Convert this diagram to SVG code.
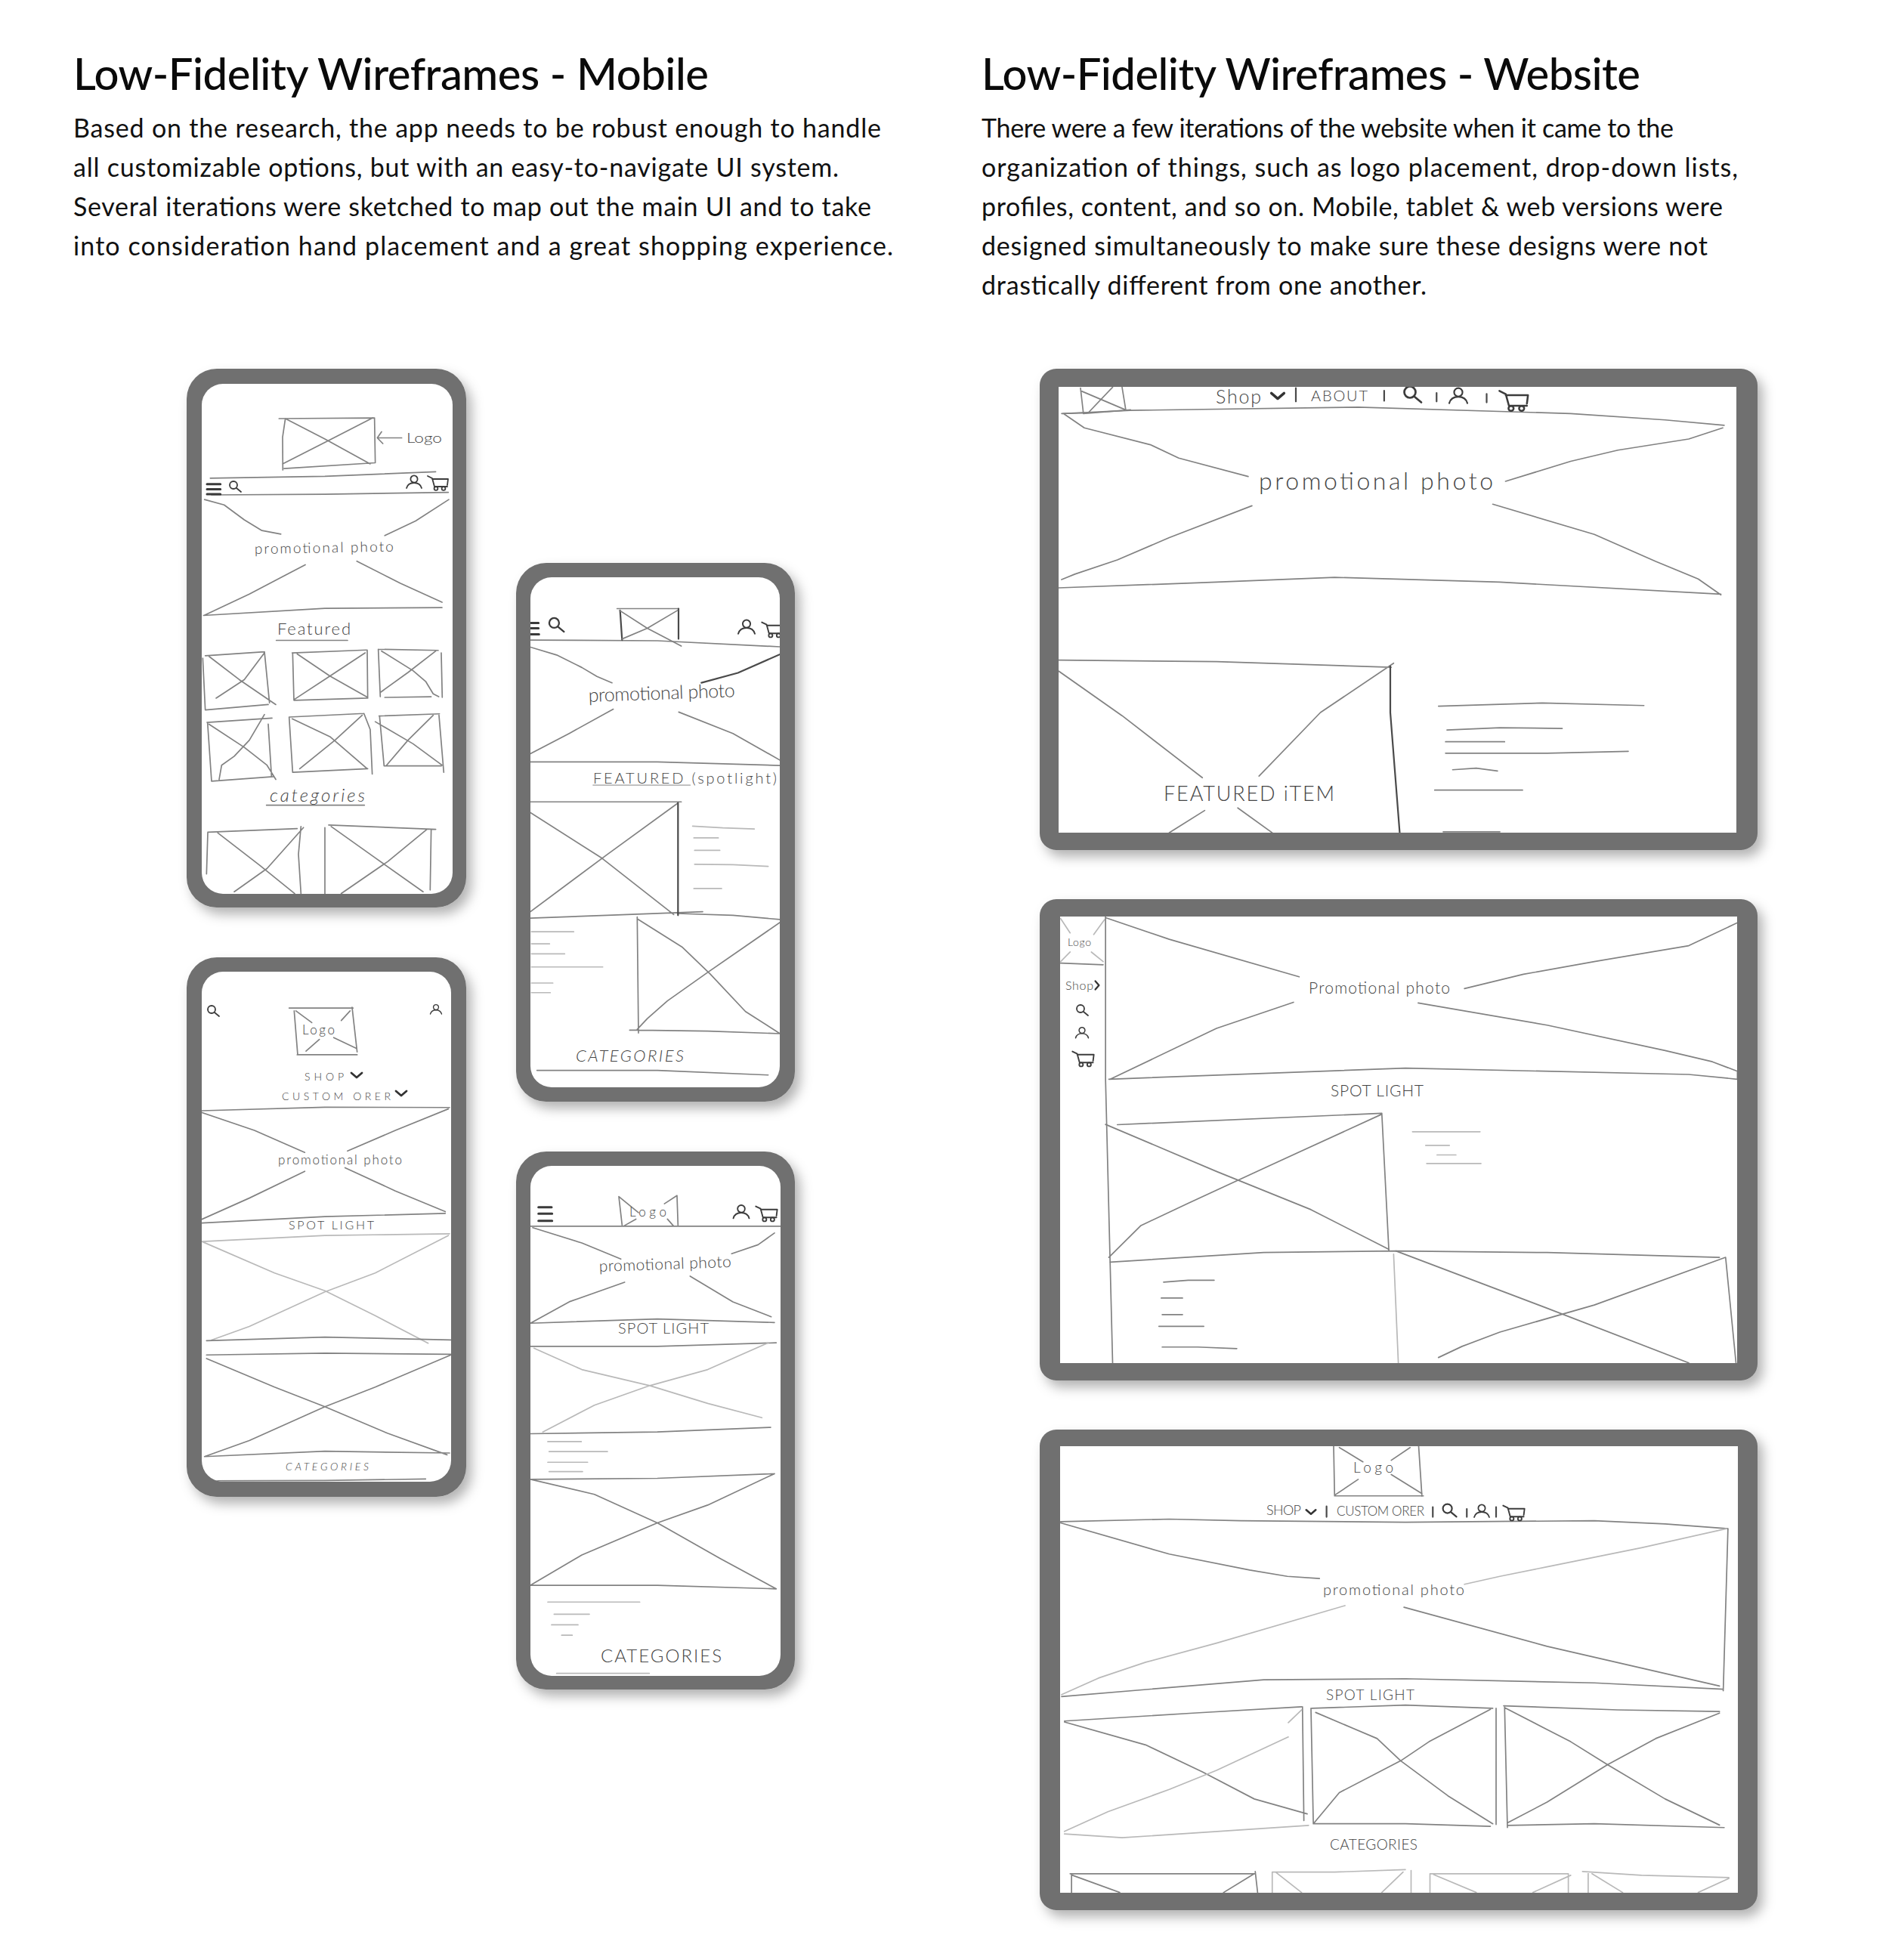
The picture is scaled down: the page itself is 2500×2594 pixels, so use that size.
<svg xmlns="http://www.w3.org/2000/svg" width="2500" height="2594" viewBox="0 0 2500 2594">
<style>
.h{font-family:"Lato","Liberation Sans",sans-serif;font-size:58px;font-weight:500;fill:#0a0a0a}
.b{font-family:"Lato","Liberation Sans",sans-serif;font-size:34px;fill:#111}
.f{fill:#6f6f6f}
.w{fill:#fff}
.s,.l,.d,.t{fill:none;vector-effect:non-scaling-stroke;stroke-linecap:round;stroke-linejoin:round}
.s{stroke:#828282;stroke-width:1.7}
.l{stroke:#b9b9b9;stroke-width:1.7}
.d{stroke:#4a4a4a;stroke-width:2.2}
.t{stroke:#3a3a3a;stroke-width:3}
.i{fill:none;stroke:#3c3c3c;stroke-width:1.8;stroke-linecap:round;stroke-linejoin:round}
.c{fill:none;stroke:#333;stroke-width:2.8;stroke-linecap:round;stroke-linejoin:round}
.x{font-family:"Lato","Liberation Sans",sans-serif;font-weight:300;fill:#444}
</style>
<defs>
<filter id="sh" x="-10%" y="-10%" width="125%" height="125%"><feDropShadow dx="7" dy="9" stdDeviation="8" flood-color="#000" flood-opacity=".3"/></filter>
<g id="search"><circle cx="-2" cy="-2" r="5" class="i"/><path d="M2 2L8 7" class="i"/></g>
<g id="person"><circle cx="0" cy="-4" r="4.6" class="i"/><path d="M-10 8Q-8 1 0 1Q8 1 10 8" class="i"/></g>
<g id="cart"><path d="M-14 -9L-8 -6L-5 5H12M-8 -5H13L12 3" class="i"/><circle cx="-3" cy="7.5" r="2.4" class="i"/><circle cx="7" cy="7.5" r="2.4" class="i"/></g>
<path id="chev" d="M-7 -3L0 3L7 -3" class="c"/>
<clipPath id="c1"><rect x="267" y="508" width="332" height="675" rx="28"/></clipPath>
<clipPath id="c2"><rect x="702" y="764" width="330" height="675" rx="28"/></clipPath>
<clipPath id="c3"><rect x="267" y="1286" width="330" height="675" rx="28"/></clipPath>
<clipPath id="c4"><rect x="702" y="1543" width="331" height="675" rx="28"/></clipPath>
<clipPath id="c5"><rect x="1401" y="512" width="897" height="590"/></clipPath>
<clipPath id="c6"><rect x="1403" y="1213" width="896" height="591"/></clipPath>
<clipPath id="c7"><rect x="1403" y="1914" width="897" height="591"/></clipPath>
</defs>
<rect width="2500" height="2594" fill="#fff"/>

<g id="title-mobile">
<text class="h" x="97" y="119" textLength="841">Low-Fidelity Wireframes - Mobile</text>
<text class="b" x="97" y="182" textLength="1069">Based on the research, the app needs to be robust enough to handle</text>
<text class="b" x="97" y="234" textLength="1013">all customizable options, but with an easy-to-navigate UI system.</text>
<text class="b" x="97" y="286" textLength="1056">Several iterations were sketched to map out the main UI and to take</text>
<text class="b" x="97" y="338" textLength="1085">into consideration hand placement and a great shopping experience.</text>
</g>
<g id="title-website">
<text class="h" x="1299" y="119" textLength="872">Low-Fidelity Wireframes - Website</text>
<text class="b" x="1299" y="182" textLength="916">There were a few iterations of the website when it came to the</text>
<text class="b" x="1299" y="234" textLength="1001">organization of things, such as logo placement, drop-down lists,</text>
<text class="b" x="1299" y="286" textLength="981">profiles, content, and so on. Mobile, tablet &amp; web versions were</text>
<text class="b" x="1299" y="338" textLength="961">designed simultaneously to make sure these designs were not</text>
<text class="b" x="1299" y="390" textLength="589">drastically different from one another.</text>
</g>

<g id="phone-1">
<rect class="f" x="247" y="488" width="370" height="713" rx="40" filter="url(#sh)"/>
<rect class="w" x="267" y="508" width="332" height="675" rx="28"/>
<g clip-path="url(#c1)">
<g transform="translate(230 470) scale(.3333 .4719)">
<path class="s" d="M418 178L795 176M443 178L432 230L433 322M438 318L800 302M797 176L800 302M443 178L600 235L780 305M790 176L600 245L432 305M810 232H905M825 215L808 232L830 248"/>
<path class="s" d="M145 345L600 340L1040 327M150 392L600 390L1090 385"/>
<path class="t" d="M132 362H185M132 376H185M132 390H185"/>
<path class="s" d="M122 405L200 420L280 462L350 492L425 502M1092 405L960 465L838 506M522 588L300 670L120 730M727 578L900 640L1065 693M118 730L600 710L1065 708"/>
<path class="s" d="M407 800H690M368 1262H757"/>
<path class="s" d="M125 843L360 832M115 850L125 995L375 980M360 832L380 975M140 845L260 910L405 980M360 835L280 910L168 962"/>
<path class="s" d="M470 835L765 827M472 835L477 968L770 962M768 827L770 962M490 838L620 900L770 960M760 835L620 900L480 965"/>
<path class="s" d="M812 825L1050 828M812 825L820 958M838 960L1022 958M1062 835L1066 960M825 830L950 885L1000 915L1030 950L1052 958M1040 830L930 890L822 945"/>
<path class="s" d="M132 1030L390 1018M134 1030L150 1195L395 1182M375 1035L388 1180M140 1035L280 1100L370 1150L405 1190M360 1008L300 1080L240 1125L190 1150L180 1190"/>
<path class="s" d="M458 1015L755 1005M458 1015L472 1170L770 1160M755 1005L780 1050L788 1175M470 1020L620 1070L768 1160M748 1010L640 1080L500 1160"/>
<path class="s" d="M815 1012L1055 1006M817 1012L835 1152L1062 1152M1053 1010L1072 1170M800 1028L950 1090L1065 1150M1030 1010L930 1080L845 1150"/>
<path class="s" d="M135 1338L490 1328M135 1340L130 1455M505 1322L495 1400L505 1510M175 1340L340 1430L480 1510M515 1325L370 1440L240 1505"/>
<path class="s" d="M600 1325L600 1510M615 1318L1040 1330M1022 1330L1018 1500M625 1322L800 1410L990 1505M1005 1330L850 1420L665 1510"/>
</g>
<use href="#search" x="311" y="644"/>
<use href="#person" x="548" y="638"/>
<use href="#cart" x="580" y="639"/>
<text class="x" x="538" y="586" font-size="17" textLength="47" lengthAdjust="spacingAndGlyphs">Logo</text>
<text class="x" x="337" y="733" font-size="19" textLength="184" transform="rotate(-1 337 733)">promotional photo</text>
<text class="x" x="367" y="840" font-size="22" textLength="97">Featured</text>
<text class="x" x="357" y="1061" font-size="24" font-style="italic" textLength="126">categories</text>
</g>
</g>

<g id="phone-2">
<rect class="f" x="683" y="745" width="369" height="713" rx="40" filter="url(#sh)"/>
<rect class="w" x="702" y="764" width="330" height="675" rx="28"/>
<g clip-path="url(#c2)">
<g transform="translate(670 730) scale(.3333 .4719)">
<path class="t" d="M96 200H128M96 215H128M96 232H130"/>
<path class="s" d="M440 160H685M96 248L600 250L1087 267"/>
<path class="d" d="M452 165L460 248M684 160V245"/>
<path class="s" d="M450 165L560 215L695 265M680 165L560 215L460 245"/>
<path class="s" d="M96 268L200 290L300 325L360 350L420 368M425 442L250 510L96 567M685 450L900 510L1087 585M96 590L600 590L1087 600"/>
<path class="d" d="M1087 288L920 340L775 368"/>
<path class="s" d="M96 702H695M96 732L380 860L665 1018M682 705L400 850L96 1010M96 1028L400 1020L780 1010M680 1015L900 1020L1087 1032"/>
<path class="d" d="M682 705V1020"/>
<path class="l" d="M345 655H730M740 770L860 775L985 778M745 803H842M748 838H848M748 877L900 878L1040 883M745 945H855"/>
<path class="s" d="M520 1025L525 1350M490 1342H525L800 1345L1087 1352M520 1030L700 1110L810 1185L950 1290L1087 1352M1087 1040L800 1180L640 1260L560 1310L520 1340"/>
<path class="l" d="M100 1066H268M100 1100H172M100 1128H232M100 1165H383M100 1210H185M100 1237H175"/>
<path class="s" d="M122 1455L600 1455L1040 1468"/>
</g>
<use href="#search" transform="translate(736 827) scale(1.3)"/>
<use href="#person" transform="translate(988 830) scale(1.1)"/>
<use href="#cart" transform="translate(1023 833) scale(1.05)"/>
<text class="x" x="779" y="929" font-size="25" textLength="194" transform="rotate(-2 779 929)">promotional photo</text>
<text class="x" x="785" y="1037" font-size="20" textLength="243">FEATURED (spotlight)</text>
<text class="x" x="762" y="1405" font-size="22" font-style="italic" textLength="143">CATEGORIES</text>
</g>
</g>

<g id="phone-3">
<rect class="f" x="247" y="1267" width="370" height="714" rx="40" filter="url(#sh)"/>
<rect class="w" x="267" y="1286" width="330" height="675" rx="28"/>
<g clip-path="url(#c3)">
<g transform="translate(230 1260) scale(.3333 .4719)">
<path class="s" d="M458 157H712M478 165L492 288M708 155L728 280M490 288H728M485 165L548 198M700 165L665 192M525 278L578 245M635 240L725 270"/>
<path class="s" d="M110 445L600 435L1095 436M110 450L320 500L520 562M1090 440L880 500L690 558M520 615L300 690L110 750M680 605L880 670L1078 728M110 760L600 742L1078 733"/>
<path class="l" d="M112 812L600 795L1095 790M115 813L400 900L600 950L800 1020L1010 1097M1090 795L800 900L600 953L300 1050L150 1088"/>
<path class="s" d="M130 1090L600 1080L1103 1088M130 1130L600 1125L1100 1128M130 1140L400 1220L600 1275L850 1350L1085 1410M1100 1130L800 1220L600 1275L300 1370L122 1415M122 1415L600 1400L1095 1405M130 1483L600 1482L1000 1478"/>
</g>
<use href="#search" x="282" y="1338"/>
<use href="#person" transform="translate(577 1336) scale(.75)"/>
<use href="#chev" x="472" y="1423"/>
<use href="#chev" x="531" y="1447"/>
<text class="x" x="400" y="1369" font-size="17" textLength="43">Logo</text>
<text class="x" x="403" y="1430" font-size="14" textLength="52">SHOP</text>
<text class="x" x="373" y="1456" font-size="14" textLength="144">CUSTOM ORER</text>
<text class="x" x="368" y="1541" font-size="17" textLength="164">promotional photo</text>
<text class="x" x="382" y="1627" font-size="16" textLength="113">SPOT LIGHT</text>
<text class="x" x="378" y="1946" font-size="14" font-style="italic" textLength="110">CATEGORIES</text>
</g>
</g>

<g id="phone-4">
<rect class="f" x="683" y="1524" width="369" height="712" rx="40" filter="url(#sh)"/>
<rect class="w" x="702" y="1543" width="331" height="675" rx="28"/>
<g clip-path="url(#c4)">
<g transform="translate(670 1520) scale(.3333 .4719)">
<path class="t" d="M128 165H180M128 183H182M128 203H182"/>
<path class="s" d="M447 135L460 215M447 135L525 180M678 132L628 155M678 132L682 215M465 218L515 198M640 198L665 218M96 218H1090"/>
<path class="s" d="M105 222L300 265L455 310M1065 237L1000 270L895 295M470 375L250 430L96 490M730 358L900 430L1052 472M96 490L600 478L1065 488"/>
<path class="s" d="M96 555L600 555L1072 545M96 800L600 795L1050 782"/>
<path class="l" d="M110 560L300 620L570 665L800 715L1015 755M1040 545L800 620L570 665L350 720L145 795M165 822H298M170 850H402M165 880H323M170 906H303M165 1272H530M190 1306H330M180 1336H285M220 1365H262M200 1472H568"/>
<path class="s" d="M96 928L600 925L1065 912M96 928L350 970L600 1050L850 1150L1072 1235M1065 912L800 1000L600 1050L300 1140L96 1225M96 1225L600 1225L1072 1235"/>
</g>
<use href="#person" transform="translate(981 1604) scale(1.05)"/>
<use href="#cart" transform="translate(1015 1606) scale(1.05)"/>
<text class="x" x="833" y="1610" font-size="17" textLength="49">Logo</text>
<text class="x" x="793" y="1683" font-size="21" textLength="175" transform="rotate(-2 793 1683)">promotional photo</text>
<text class="x" x="818" y="1765" font-size="20" textLength="120">SPOT LIGHT</text>
<text class="x" x="795" y="2200" font-size="24" textLength="160">CATEGORIES</text>
</g>
</g>

<g id="web-1">
<rect class="f" x="1376" y="488" width="950" height="637" rx="22" filter="url(#sh)"/>
<rect class="w" x="1401" y="512" width="897" height="590"/>
<g clip-path="url(#c5)">
<g transform="translate(1360 480) scale(.625 .4209)">
<path class="s" d="M112 80L118 158M200 77L208 150M118 160L218 148M115 90L210 150M180 77L130 155M72 160L120 158"/>
<path class="d" d="M568 80V122M755 88V120M866 95V122M972 98V125"/>
<path class="s" d="M75 160L218 150L700 140L1150 160L1350 180L1475 197"/>
<path class="s" d="M78 162L120 205L260 258L320 300L467 358M1472 205L1400 240L1250 275L1150 310L1012 373M475 450L300 550L190 620L100 665L72 682M985 445L1200 540L1330 625L1420 680L1468 730M66 708L400 690L650 675L1000 690L1468 728"/>
<path class="s" d="M66 935L400 940L770 958M66 970L200 1110L370 1305M775 945L620 1100L490 1300M375 1408L300 1478M445 1400L518 1478"/>
<path class="d" d="M768 955V1100L788 1480"/>
<path class="s" d="M870 1080L1090 1070L1305 1078M888 1155L1000 1148L1132 1150M885 1192H1010M885 1228L1100 1228L1272 1222M900 1280L950 1275L995 1284M862 1344H1048M880 1475H1000"/>
</g>
<use href="#chev" transform="translate(1691 524) scale(1.2)"/>
<use href="#search" transform="translate(1869 522) scale(1.5)"/>
<use href="#person" transform="translate(1930 524) scale(1.2)"/>
<use href="#cart" transform="translate(2004 530) scale(1.4)"/>
<text class="x" x="1609" y="534" font-size="25" textLength="60">Shop</text>
<text class="x" x="1735" y="531" font-size="20" textLength="75">ABOUT</text>
<text class="x" x="1666" y="648" font-size="32" textLength="310">promotional photo</text>
<text class="x" x="1540" y="1060" font-size="27" textLength="226">FEATURED iTEM</text>
</g>
</g>

<g id="web-2">
<rect class="f" x="1376" y="1190" width="950" height="637" rx="22" filter="url(#sh)"/>
<rect class="w" x="1403" y="1213" width="896" height="591"/>
<g clip-path="url(#c6)">
<g transform="translate(1360 1180) scale(.625 .4209)">
<path class="l" d="M70 85L90 130M163 88L140 135M70 220L90 190M160 220L135 190"/>
<path class="s" d="M70 225L160 230M165 80L165 590L180 1482"/>
<path class="s" d="M165 82L300 150L575 268M1503 98L1400 170L1200 220L1050 260L925 305M563 348L400 430L175 590M827 350L1100 420L1350 500L1450 535L1503 565M172 590L800 555L1400 575L1503 590V565"/>
<path class="s" d="M190 733L750 697L765 1130M165 732L400 880L600 1000L765 1125M750 700L500 870L340 980L240 1050L172 1150M175 1165L500 1135L780 1130L1100 1135L1465 1150"/>
<path class="l" d="M775 1140L785 1482M815 755H958M843 798H893M867 828H907M845 855H960"/>
<path class="s" d="M780 1130L1100 1310L1400 1482M1478 1150L1200 1300L1000 1385L920 1430L870 1465M1478 1150L1500 1482"/>
<path class="s" d="M288 1228L340 1222L395 1222M283 1278H328M285 1330H328M278 1367H373M285 1432L360 1432L443 1437"/>
</g>
<use href="#chev" transform="translate(1452 1304) rotate(-90) scale(.8)"/>
<use href="#search" x="1432" y="1337"/>
<use href="#person" transform="translate(1432 1367) scale(.85)"/>
<use href="#cart" transform="translate(1434 1401) scale(1.05)"/>
<text class="x" x="1413" y="1252" font-size="14" textLength="31">Logo</text>
<text class="x" x="1410" y="1310" font-size="16" textLength="37">Shop</text>
<text class="x" x="1732" y="1315" font-size="21" textLength="187">Promotional photo</text>
<text class="x" x="1761" y="1451" font-size="21" textLength="123">SPOT LIGHT</text>
</g>
</g>

<g id="web-3">
<rect class="f" x="1376" y="1892" width="950" height="636" rx="22" filter="url(#sh)"/>
<rect class="w" x="1403" y="1914" width="897" height="591"/>
<g clip-path="url(#c7)">
<g transform="translate(1360 1880) scale(.625 .4209)">
<path class="s" d="M648 80L650 235M828 80L835 238M650 237H838M660 85L710 130M810 85L770 125M650 235L700 185M770 170L835 230"/>
<path class="d" d="M633 270V303M858 272V303M930 278V303M992 272V303"/>
<path class="s" d="M70 318L300 310L450 315L800 320L1200 315L1350 325L1483 340L1473 850M70 322L300 420L470 470L550 490L618 497M797 587L1100 710L1465 835M72 868L500 815L800 812L1200 825L1473 845"/>
<path class="l" d="M1480 340L1300 400L1100 460L1000 490L925 515M672 582L400 700L250 760L150 810L72 862"/>
<path class="s" d="M78 945L350 920L580 900M582 900L585 1258M78 948L250 1020L370 1105L480 1190L592 1237"/>
<path class="l" d="M580 910L552 950M552 995L400 1100L300 1160L170 1230L78 1292M78 1300L200 1312L595 1273"/>
<path class="s" d="M602 905L800 895L985 905M600 905L605 1268M607 1268L800 1268L980 1276M992 905V1270M610 918L740 1000L790 1070L890 1180L985 1268M980 908L850 1010L790 1070L660 1170L605 1268"/>
<path class="s" d="M1008 897L1250 910L1465 915M1010 900L1016 1280M1016 1273L1200 1268L1475 1280M1010 903L1150 1010L1228 1082L1350 1190L1465 1272M1465 920L1330 1000L1228 1082L1100 1200L1016 1265"/>
<path class="s" d="M90 1425H482M93 1425V1484M482 1418L487 1484M95 1430L195 1484M480 1425L415 1484"/>
<path class="l" d="M518 1420L650 1420L800 1412M518 1420V1484M812 1415V1484M525 1420L580 1484M795 1420L750 1484M852 1425H1145M852 1425V1484M1145 1425V1484M860 1428L950 1484M1150 1430L1070 1484M1175 1418L1300 1430L1485 1437M1187 1420V1484M1195 1425L1260 1484M1485 1440L1420 1484"/>
</g>
<use href="#chev" transform="translate(1735 2001) scale(.9)"/>
<use href="#search" transform="translate(1918 1999) scale(1.2)"/>
<use href="#person" transform="translate(1961 2000) scale(1)"/>
<use href="#cart" transform="translate(2004 2002) scale(1.05)"/>
<text class="x" x="1791" y="1949" font-size="19" textLength="53">Logo</text>
<text class="x" x="1676" y="2005" font-size="18" textLength="46">SHOP</text>
<text class="x" x="1769" y="2006" font-size="17" textLength="116">CUSTOM ORER</text>
<text class="x" x="1751" y="2111" font-size="20" textLength="187">promotional photo</text>
<text class="x" x="1755" y="2250" font-size="19" textLength="117">SPOT LIGHT</text>
<text class="x" x="1760" y="2448" font-size="19" textLength="116">CATEGORIES</text>
</g>
</g>
</svg>
